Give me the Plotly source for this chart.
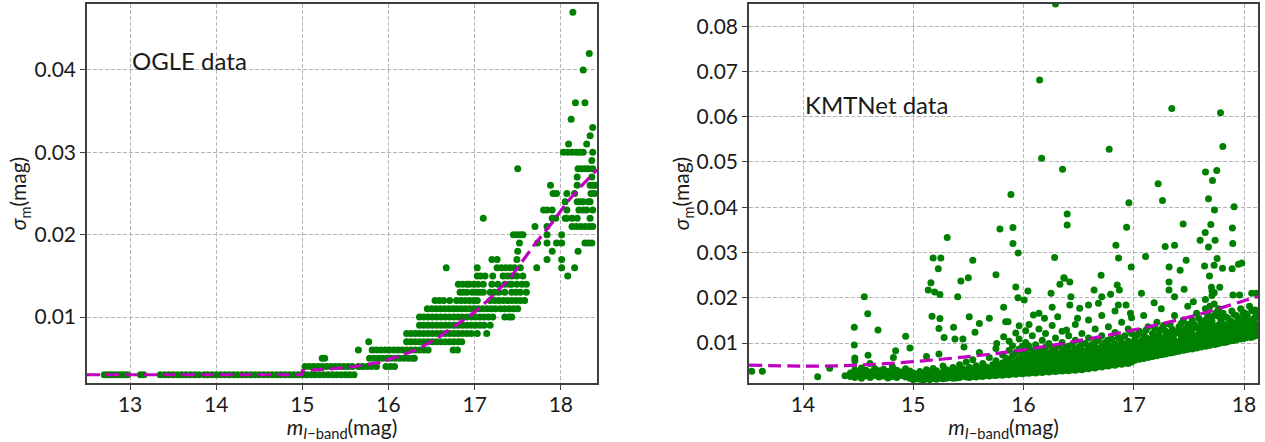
import plotly.graph_objects as go

# ---------------- OGLE data (left panel) ----------------
# quantised sigma levels and the I-band magnitudes read at each level
ogle_levels = [0.003, 0.004, 0.005, 0.006, 0.007, 0.008, 0.009, 0.010, 0.011, 0.012,
               0.013, 0.014, 0.015, 0.016, 0.017, 0.018, 0.019, 0.020, 0.021, 0.022,
               0.023, 0.024, 0.025, 0.026, 0.027, 0.028, 0.029, 0.030, 0.031, 0.032,
               0.033, 0.034, 0.036, 0.040, 0.042, 0.047]
ogle_rows = [
    [12.70, 12.74, 12.78, 12.82, 12.86, 12.90, 12.93, 12.97, 13.12, 13.16, 13.35, 13.40,
     13.45, 13.50, 13.55, 13.60, 13.65, 13.70, 13.75, 13.80, 13.86, 13.90, 13.95, 14.00,
     14.05, 14.10, 14.15, 14.20, 14.25, 14.30, 14.35, 14.40, 14.45, 14.50, 14.55, 14.60,
     14.65, 14.70, 14.75, 14.80, 14.85, 14.90, 14.95, 15.00, 15.05, 15.10, 15.15, 15.20,
     15.25, 15.30, 15.35, 15.40, 15.45, 15.50, 15.55, 15.60],
    [15.03, 15.08, 15.13, 15.18, 15.23, 15.28, 15.33, 15.38, 15.43, 15.48, 15.53, 15.58,
     15.65, 15.70, 15.75, 15.80, 15.86, 15.97, 16.02, 16.07],
    [15.23, 15.26, 15.78, 15.83, 15.88, 15.93, 15.98, 16.03, 16.08, 16.13, 16.18, 16.23,
     16.28, 16.30],
    [15.65, 15.81, 15.86, 15.91, 15.96, 16.01, 16.06, 16.11, 16.16, 16.21, 16.26, 16.31,
     16.36, 16.41, 16.46, 16.75, 16.80],
    [15.77, 16.21, 16.26, 16.31, 16.36, 16.41, 16.46, 16.51, 16.56, 16.61, 16.66, 16.71,
     16.76, 16.81, 16.85],
    [16.21, 16.26, 16.31, 16.36, 16.41, 16.46, 16.51, 16.56, 16.61, 16.66, 16.71, 16.76,
     16.81, 16.86, 16.91, 16.96, 17.03, 17.14],
    [16.36, 16.41, 16.46, 16.51, 16.56, 16.61, 16.66, 16.71, 16.76, 16.81, 16.86, 16.91,
     16.96, 17.01, 17.06, 17.11, 17.18],
    [16.36, 16.41, 16.46, 16.51, 16.56, 16.61, 16.66, 16.71, 16.76, 16.81, 16.86, 16.91,
     16.96, 17.01, 17.06, 17.11, 17.16, 17.21, 17.35, 17.40, 17.43],
    [16.45, 16.50, 16.55, 16.60, 16.65, 16.70, 16.75, 16.79, 16.84, 16.89, 16.94, 16.99,
     17.04, 17.09, 17.14, 17.19, 17.24, 17.30, 17.35, 17.40, 17.45, 17.50],
    [16.54, 16.59, 16.64, 16.71, 16.79, 16.84, 16.89, 16.94, 16.99, 17.03, 17.18, 17.23,
     17.28, 17.33, 17.38, 17.43, 17.48, 17.53, 17.58],
    [16.83, 16.87, 16.91, 16.97, 17.02, 17.06, 17.10, 17.18, 17.23, 17.28, 17.35, 17.43,
     17.48, 17.53, 17.60],
    [16.81, 16.86, 16.91, 16.94, 16.99, 17.04, 17.10, 17.20, 17.27, 17.35, 17.40, 17.43,
     17.49, 17.55, 17.60],
    [17.03, 17.07, 17.12, 17.21, 17.33, 17.38, 17.43, 17.49, 17.56, 18.08],
    [16.67, 17.03, 17.26, 17.31, 17.36, 17.41, 17.46, 17.53, 17.72, 18.01, 18.16],
    [17.20, 17.26, 17.49, 17.84, 18.01],
    [17.50, 17.90, 18.20],
    [17.52, 17.73, 17.84, 17.95, 18.01, 18.28, 18.32, 18.36],
    [17.45, 17.49, 17.53, 17.56, 17.84, 18.01],
    [17.70, 17.84, 18.13, 18.18, 18.23, 18.28, 18.33, 18.37],
    [17.10, 17.90, 17.94, 18.05, 18.07, 18.13, 18.19, 18.34],
    [17.80, 17.84, 17.90, 18.07, 18.21, 18.26, 18.30, 18.37],
    [18.05, 18.19, 18.23, 18.26, 18.32, 18.34],
    [17.91, 17.95, 18.07, 18.16, 18.35, 18.39],
    [17.88, 18.19, 18.34, 18.37, 18.40],
    [18.19, 18.36],
    [17.50, 18.20, 18.24, 18.28, 18.32, 18.37],
    [18.36],
    [18.03, 18.08, 18.13, 18.18, 18.22, 18.26, 18.37],
    [18.09, 18.30],
    [18.34],
    [18.37],
    [18.12],
    [18.17, 18.28],
    [18.26],
    [18.33],
    [18.14],
]
ogle_fit_x = [12.50, 13.50, 14.50, 15.00, 15.00, 15.32, 15.61, 15.90, 16.13, 16.36, 16.60,
              16.83, 17.00, 17.18, 17.41, 17.68, 17.91, 18.07, 18.22, 18.42]
ogle_fit_y = [0.0030, 0.0030, 0.0030, 0.0030, 0.0035, 0.0037, 0.0040, 0.0045, 0.0053,
              0.0062, 0.0077, 0.0094, 0.0106, 0.0123, 0.0147, 0.0186, 0.0216, 0.0239,
              0.0257, 0.0279]

# ---------------- KMTNet data (right panel) ----------------
# scattered points read individually
kmt_sparse_x = [13.535, 13.631, 14.133, 14.242, 14.381, 14.465, 14.556, 14.587, 14.465, 14.47,
                14.47, 14.68, 14.931, 14.97, 14.84, 14.82, 14.607, 14.59, 15.12, 15.308,
                15.18, 15.25, 15.227, 15.16, 15.136, 15.194, 15.242, 15.17, 15.242, 15.233,
                15.28, 15.233, 15.366, 15.378, 15.45, 15.46, 15.403, 15.432, 15.499, 15.54,
                15.75, 15.786, 15.508, 15.56, 15.60, 15.69, 15.82, 15.838, 15.82, 15.757,
                15.886, 15.904, 15.904, 15.952, 15.93, 15.95, 16.04, 16.006, 15.86,
                16.29, 16.146, 17.345, 17.787, 16.777, 17.808, 16.164, 16.354, 17.651, 17.753,
                17.714, 17.221, 17.261, 17.678, 16.956, 17.91, 17.732, 16.396, 16.396, 16.935,
                17.448, 17.699, 17.895, 17.648, 17.602, 17.738, 17.898, 16.838, 17.285, 17.37,
                17.678, 16.282, 16.862, 17.107, 17.756, 17.475, 17.321, 17.642, 17.729, 16.977,
                17.421, 17.805, 17.892, 17.95, 17.98, 16.704, 16.366, 17.687,
                16.09, 16.14, 16.19, 16.25, 16.26, 16.33, 16.37, 16.42, 16.43, 16.42,
                16.31, 16.39, 16.49, 16.51, 16.59, 16.64, 16.71, 16.68, 16.79, 16.85,
                16.87, 16.86, 16.93, 16.97, 17.07, 17.185, 17.32, 17.32, 17.37, 17.457,
                17.54, 17.705, 17.71, 17.71, 17.78, 17.96, 17.90, 18.07, 18.11, 18.10, 18.00]
kmt_sparse_y = [0.00375, 0.00375, 0.00256, 0.00441, 0.00278, 0.01347, 0.0202, 0.01647, 0.00956, 0.0067,
                0.0061, 0.01287, 0.01148, 0.0089, 0.0083, 0.0068, 0.0055, 0.0073, 0.0070, 0.0333,
                0.0288, 0.0288, 0.0264, 0.0233, 0.0217, 0.0213, 0.0207, 0.0159, 0.0154, 0.0132,
                0.0112, 0.0076, 0.0135, 0.0109, 0.0109, 0.0091, 0.0202, 0.0237, 0.0244, 0.0283,
                0.0251, 0.0352, 0.0158, 0.0124, 0.0143, 0.0155, 0.0179, 0.0147, 0.0114, 0.0099,
                0.0428, 0.0355, 0.0320, 0.0299, 0.0224, 0.0200, 0.0215, 0.0195, 0.0147,
                0.0849, 0.0681, 0.0618, 0.0609, 0.0528, 0.0534, 0.0508, 0.0484, 0.0478, 0.0481,
                0.0459, 0.0452, 0.0415, 0.0419, 0.0410, 0.0401, 0.0394, 0.0385, 0.0361, 0.0356,
                0.0363, 0.0362, 0.0354, 0.0344, 0.0327, 0.0327, 0.0320, 0.0316, 0.0313, 0.0316,
                0.0312, 0.0289, 0.0288, 0.0291, 0.0287, 0.0283, 0.0268, 0.0270, 0.0272, 0.0268,
                0.0261, 0.0265, 0.0264, 0.0274, 0.0277, 0.0250, 0.0244, 0.0248,
                0.0162, 0.0166, 0.0155, 0.0210, 0.0179, 0.0230, 0.0243, 0.0235, 0.0202, 0.0184,
                0.0158, 0.0129, 0.0155, 0.0177, 0.0184, 0.0217, 0.0202, 0.0188, 0.0208, 0.0228,
                0.0217, 0.0184, 0.0184, 0.0166, 0.0210, 0.0189, 0.0235, 0.0217, 0.0202, 0.0219,
                0.0191, 0.0223, 0.0215, 0.0205, 0.0223, 0.0206, 0.0206, 0.0210, 0.0210, 0.0173, 0.0162]

# dense band: magnitude columns and the sigma values read in each column
kmt_band_x = [14.43, 14.47, 14.50, 14.53, 14.57, 14.61, 14.65, 14.69, 14.73, 14.77, 14.81,
              14.85, 14.89, 14.93, 14.97,
              15.00, 15.03, 15.06, 15.09, 15.12, 15.15, 15.18, 15.21, 15.24, 15.27, 15.30,
              15.33, 15.36, 15.39, 15.42, 15.45, 15.48, 15.51, 15.54, 15.57, 15.60, 15.63,
              15.66, 15.69, 15.72, 15.75, 15.78, 15.81, 15.84, 15.87, 15.90, 15.93, 15.96,
              15.99, 16.02, 16.05, 16.08, 16.11, 16.14, 16.17, 16.20, 16.23, 16.26, 16.29,
              16.32, 16.35, 16.38, 16.41, 16.44, 16.47, 16.50, 16.53, 16.56, 16.59, 16.62,
              16.65, 16.68, 16.71, 16.74, 16.77, 16.80, 16.83, 16.86, 16.89, 16.92, 16.95,
              16.98, 17.01, 17.05, 17.09, 17.13, 17.17, 17.21, 17.25, 17.29, 17.33, 17.37,
              17.41, 17.45, 17.49, 17.53, 17.57, 17.61, 17.65, 17.69, 17.73, 17.77, 17.81,
              17.85, 17.89, 17.93, 17.97, 18.01, 18.05, 18.09, 18.12]
kmt_band_y = [
    [0.0026, 0.0034], [0.0024, 0.0041, 0.0031], [0.0029, 0.0037], [0.0022, 0.0033, 0.0045],
    [0.0027, 0.0040], [0.0031, 0.0024, 0.0036], [0.0028, 0.0044], [0.0034, 0.0025, 0.0039],
    [0.0027, 0.0042, 0.0032], [0.0030, 0.0023, 0.0037], [0.0026, 0.0035, 0.0048],
    [0.0031, 0.0040, 0.0024], [0.0028, 0.0036], [0.0025, 0.0033, 0.0043],
    [0.0029, 0.0038, 0.0022],
    [0.0019, 0.0027, 0.0034], [0.0023, 0.0031, 0.0021], [0.0020, 0.0029, 0.0037, 0.0026],
    [0.0024, 0.0018, 0.0033], [0.0021, 0.0028, 0.0041, 0.0035], [0.0025, 0.0019, 0.0032],
    [0.0022, 0.0030, 0.0044, 0.0027], [0.0026, 0.0020, 0.0035, 0.0039], [0.0023, 0.0031, 0.0028],
    [0.0021, 0.0027, 0.0036, 0.0049], [0.0025, 0.0033, 0.0022, 0.0041], [0.0028, 0.0024, 0.0038],
    [0.0022, 0.0030, 0.0035, 0.0046], [0.0026, 0.0033, 0.0040, 0.0023],
    [0.0029, 0.0024, 0.0037, 0.0052], [0.0027, 0.0034, 0.0043], [0.0025, 0.0031, 0.0039, 0.0058],
    [0.0028, 0.0036, 0.0046, 0.0024], [0.0026, 0.0033, 0.0041, 0.0063],
    [0.0029, 0.0038, 0.0025, 0.0050], [0.0027, 0.0035, 0.0044, 0.0079],
    [0.0030, 0.0026, 0.0040, 0.0055], [0.0028, 0.0037, 0.0047, 0.0033],
    [0.0031, 0.0027, 0.0043, 0.0068], [0.0029, 0.0036, 0.0052, 0.0040],
    [0.0032, 0.0028, 0.0045, 0.0061, 0.0088], [0.0030, 0.0038, 0.0049, 0.0035],
    [0.0033, 0.0029, 0.0042, 0.0056, 0.0074], [0.0031, 0.0039, 0.0051, 0.0067, 0.0036],
    [0.0034, 0.0030, 0.0046, 0.0059, 0.0084, 0.0104], [0.0032, 0.0040, 0.0053, 0.0071, 0.0094, 0.0037],
    [0.0035, 0.0031, 0.0047, 0.0058, 0.0079, 0.0122],
    [0.0033, 0.0041, 0.0055, 0.0066, 0.0109, 0.0138, 0.0087],
    [0.0036, 0.0032, 0.0049, 0.0061, 0.0076, 0.0093],
    [0.0034, 0.0042, 0.0052, 0.0063, 0.0080, 0.0101, 0.0127],
    [0.0037, 0.0033, 0.0046, 0.0057, 0.0069, 0.0089, 0.0141],
    [0.0035, 0.0043, 0.0054, 0.0065, 0.0083, 0.0116, 0.0039],
    [0.0038, 0.0034, 0.0048, 0.0059, 0.0072, 0.0096],
    [0.0036, 0.0044, 0.0056, 0.0067, 0.0086, 0.0131, 0.0050],
    [0.0039, 0.0035, 0.0050, 0.0061, 0.0074, 0.0106],
    [0.0037, 0.0045, 0.0058, 0.0069, 0.0091, 0.0121, 0.0042],
    [0.0040, 0.0036, 0.0052, 0.0063, 0.0077, 0.0099],
    [0.0038, 0.0047, 0.0060, 0.0071, 0.0086, 0.0139, 0.0054],
    [0.0041, 0.0037, 0.0055, 0.0066, 0.0079, 0.0111],
    [0.0039, 0.0048, 0.0062, 0.0074, 0.0093, 0.0044],
    [0.0042, 0.0038, 0.0057, 0.0068, 0.0081, 0.0101, 0.0126],
    [0.0040, 0.0050, 0.0063, 0.0076, 0.0089, 0.0045],
    [0.0043, 0.0039, 0.0058, 0.0070, 0.0083, 0.0116],
    [0.0041, 0.0052, 0.0065, 0.0078, 0.0096, 0.0047],
    [0.0044, 0.0040, 0.0060, 0.0072, 0.0086, 0.0106, 0.0141],
    [0.0042, 0.0054, 0.0067, 0.0080, 0.0091, 0.0049],
    [0.0046, 0.0041, 0.0061, 0.0073, 0.0084, 0.0121],
    [0.0044, 0.0056, 0.0069, 0.0081, 0.0099, 0.0051],
    [0.0048, 0.0043, 0.0063, 0.0075, 0.0089, 0.0111, 0.0151],
    [0.0046, 0.0058, 0.0071, 0.0083, 0.0096, 0.0053],
    [0.0050, 0.0045, 0.0065, 0.0077, 0.0091, 0.0131],
    [0.0048, 0.0060, 0.0073, 0.0086, 0.0106, 0.0055],
    [0.0052, 0.0047, 0.0067, 0.0079, 0.0093, 0.0116, 0.0161],
    [0.0050, 0.0062, 0.0075, 0.0088, 0.0101, 0.0057],
    [0.0054, 0.0049, 0.0069, 0.0081, 0.0096, 0.0136],
    [0.0052, 0.0064, 0.0077, 0.0091, 0.0109, 0.0059],
    [0.0056, 0.0051, 0.0071, 0.0083, 0.0098, 0.0123, 0.0171],
    [0.0054, 0.0066, 0.0079, 0.0093, 0.0111, 0.0061],
    [0.0058, 0.0053, 0.0073, 0.0085, 0.0101, 0.0146],
    [0.0056, 0.0068, 0.0081, 0.0096, 0.0116, 0.0063],
    [0.0060, 0.0055, 0.0075, 0.0087, 0.0104, 0.0131],
    [0.0058, 0.0070, 0.0083, 0.0099, 0.0121, 0.0156, 0.0065],
    [0.0062, 0.0072, 0.0086, 0.0109, 0.0067], [0.0064, 0.0076, 0.0091, 0.0126, 0.0082],
    [0.0066, 0.0079, 0.0097, 0.0116, 0.0161, 0.0071], [0.0068, 0.0082, 0.0101, 0.0136, 0.0088],
    [0.0070, 0.0085, 0.0104, 0.0121, 0.0077], [0.0072, 0.0087, 0.0108, 0.0146, 0.0094],
    [0.0074, 0.0090, 0.0111, 0.0131, 0.0176, 0.0081], [0.0076, 0.0093, 0.0114, 0.0126, 0.0100],
    [0.0078, 0.0096, 0.0117, 0.0141, 0.0086], [0.0080, 0.0098, 0.0120, 0.0161, 0.0106],
    [0.0082, 0.0101, 0.0123, 0.0136, 0.0091], [0.0084, 0.0103, 0.0126, 0.0151, 0.0113],
    [0.0086, 0.0106, 0.0129, 0.0141, 0.0181, 0.0096], [0.0087, 0.0108, 0.0131, 0.0151, 0.0118],
    [0.0089, 0.0110, 0.0134, 0.0166, 0.0100], [0.0091, 0.0112, 0.0127, 0.0146, 0.0122],
    [0.0093, 0.0114, 0.0130, 0.0151, 0.0176, 0.0196, 0.0104],
    [0.0095, 0.0116, 0.0134, 0.0156, 0.0181, 0.0125],
    [0.0097, 0.0118, 0.0137, 0.0161, 0.0186, 0.0211, 0.0108],
    [0.0099, 0.0120, 0.0140, 0.0159, 0.0176, 0.0130],
    [0.0101, 0.0122, 0.0142, 0.0166, 0.0112], [0.0103, 0.0124, 0.0139, 0.0156, 0.0133],
    [0.0105, 0.0126, 0.0147, 0.0171, 0.0116], [0.0107, 0.0128, 0.0144, 0.0161, 0.0137],
    [0.0109, 0.0130, 0.0150, 0.0176, 0.0120], [0.0111, 0.0132, 0.0152, 0.0166, 0.0141],
    [0.0113, 0.0134, 0.0148, 0.0181, 0.0124], [0.0115, 0.0136, 0.0154, 0.0171, 0.0145],
    [0.0117, 0.0138, 0.0157, 0.0128],
]
# further columns of the dense band lying between the ones above
kmt_band2_x = [16.015, 16.045, 16.075, 16.105, 16.135, 16.165, 16.195, 16.225, 16.255, 16.285,
               16.315, 16.345, 16.375, 16.405, 16.435, 16.465, 16.495, 16.525, 16.555, 16.585,
               16.615, 16.645, 16.675, 16.705, 16.735, 16.765, 16.795, 16.825, 16.855, 16.885,
               16.915, 16.945, 16.975,
               17.03, 17.07, 17.11, 17.15, 17.19, 17.23, 17.27, 17.31, 17.35, 17.39, 17.43,
               17.47, 17.51, 17.55, 17.59, 17.63, 17.67, 17.71, 17.75, 17.79, 17.83, 17.87,
               17.91, 17.95, 17.99, 18.03, 18.07, 18.11]
kmt_band2_y = [
    [0.0039, 0.0058, 0.0045, 0.0071], [0.0035, 0.0062, 0.0050, 0.0094],
    [0.0041, 0.0048, 0.0076, 0.0060], [0.0037, 0.0053, 0.0066, 0.0044],
    [0.0043, 0.0061, 0.0038, 0.0079], [0.0045, 0.0056, 0.0069, 0.0040],
    [0.0039, 0.0064, 0.0048, 0.0083], [0.0046, 0.0055, 0.0072, 0.0041],
    [0.0042, 0.0067, 0.0050, 0.0058], [0.0048, 0.0059, 0.0044, 0.0088],
    [0.0043, 0.0070, 0.0053, 0.0061], [0.0050, 0.0047, 0.0064, 0.0078],
    [0.0044, 0.0059, 0.0073, 0.0052], [0.0051, 0.0062, 0.0046, 0.0093],
    [0.0046, 0.0071, 0.0055, 0.0064], [0.0053, 0.0048, 0.0066, 0.0082],
    [0.0047, 0.0063, 0.0075, 0.0056], [0.0055, 0.0050, 0.0068, 0.0097],
    [0.0049, 0.0074, 0.0058, 0.0066], [0.0057, 0.0052, 0.0070, 0.0086],
    [0.0051, 0.0066, 0.0079, 0.0060], [0.0059, 0.0054, 0.0073, 0.0102],
    [0.0053, 0.0078, 0.0062, 0.0070], [0.0061, 0.0056, 0.0075, 0.0090],
    [0.0055, 0.0070, 0.0083, 0.0064], [0.0063, 0.0058, 0.0077, 0.0106],
    [0.0057, 0.0082, 0.0066, 0.0074], [0.0065, 0.0060, 0.0079, 0.0094],
    [0.0059, 0.0074, 0.0088, 0.0068], [0.0067, 0.0062, 0.0081, 0.0111],
    [0.0061, 0.0086, 0.0070, 0.0078], [0.0069, 0.0064, 0.0084, 0.0099],
    [0.0063, 0.0077, 0.0092, 0.0072],
    [0.0069, 0.0083, 0.0074, 0.0098, 0.0118], [0.0072, 0.0088, 0.0078, 0.0105],
    [0.0070, 0.0081, 0.0093, 0.0112, 0.0128], [0.0075, 0.0090, 0.0084, 0.0108],
    [0.0073, 0.0095, 0.0080, 0.0116, 0.0133], [0.0078, 0.0086, 0.0100, 0.0122],
    [0.0081, 0.0076, 0.0097, 0.0108, 0.0139], [0.0079, 0.0089, 0.0104, 0.0120],
    [0.0084, 0.0093, 0.0079, 0.0110, 0.0130], [0.0082, 0.0100, 0.0091, 0.0125],
    [0.0087, 0.0095, 0.0108, 0.0118, 0.0143], [0.0085, 0.0099, 0.0114, 0.0131],
    [0.0090, 0.0098, 0.0120, 0.0110, 0.0137], [0.0093, 0.0104, 0.0116, 0.0141],
    [0.0092, 0.0100, 0.0121, 0.0132, 0.0155], [0.0096, 0.0107, 0.0118, 0.0139],
    [0.0095, 0.0105, 0.0123, 0.0142, 0.0163], [0.0100, 0.0110, 0.0127, 0.0148],
    [0.0098, 0.0109, 0.0133, 0.0121, 0.0168], [0.0103, 0.0114, 0.0129, 0.0151],
    [0.0102, 0.0113, 0.0135, 0.0125, 0.0158], [0.0107, 0.0118, 0.0130, 0.0149],
    [0.0106, 0.0117, 0.0139, 0.0128, 0.0163], [0.0111, 0.0122, 0.0134, 0.0155],
    [0.0110, 0.0120, 0.0143, 0.0131, 0.0168], [0.0114, 0.0126, 0.0138, 0.0160],
    [0.0113, 0.0124, 0.0146, 0.0135, 0.0172], [0.0118, 0.0129, 0.0141, 0.0162],
]
kmt_fit_x = [13.51, 14.00, 14.49, 15.00, 15.54, 16.00, 16.45, 17.00, 17.51, 18.13]
kmt_fit_y = [0.00514, 0.0049, 0.0051, 0.0059, 0.0071, 0.0085, 0.0103, 0.0129, 0.0158, 0.0203]

# ---------------- build traces ----------------
ogle_x, ogle_y = [], []
for lev, row in zip(ogle_levels, ogle_rows):
    ogle_x += row
    ogle_y += [lev] * len(row)

kmt_x, kmt_y = list(kmt_sparse_x), list(kmt_sparse_y)
for cols_x, cols_y in ((kmt_band_x, kmt_band_y), (kmt_band2_x, kmt_band2_y)):
    for cx, col in zip(cols_x, cols_y):
        kmt_x += [cx] * len(col)
        kmt_y += col

GREEN = "#008000"
MAGENTA = "#BF00BF"
FONT = "Lato, 'DejaVu Sans', sans-serif"
TXT = "#1a1a1a"

fig = go.Figure()
fig.add_trace(go.Scatter(x=ogle_x, y=ogle_y, mode="markers",
                         marker=dict(color=GREEN, size=7, line=dict(width=0)),
                         xaxis="x", yaxis="y", showlegend=False))
fig.add_trace(go.Scatter(x=ogle_fit_x, y=ogle_fit_y, mode="lines",
                         line=dict(color=MAGENTA, width=3.2, dash="13px,6px"),
                         xaxis="x", yaxis="y", showlegend=False))
fig.add_trace(go.Scatter(x=kmt_x, y=kmt_y, mode="markers",
                         marker=dict(color=GREEN, size=7, line=dict(width=0)),
                         xaxis="x2", yaxis="y2", showlegend=False))
fig.add_trace(go.Scatter(x=kmt_fit_x, y=kmt_fit_y, mode="lines", line_shape="spline",
                         line=dict(color=MAGENTA, width=3.2, dash="13px,6px"),
                         xaxis="x2", yaxis="y2", showlegend=False))

W, H = 1265, 442
ydom = [(H - 383) / H, (H - 4) / H]

axis_common = dict(showline=True, mirror=True, linecolor="#404040", linewidth=1.5,
                   ticks="outside", ticklen=5, tickwidth=1.2, tickcolor="#404040",
                   showgrid=True, gridcolor="#b5b5b5", gridwidth=1, griddash="4px,2px",
                   zeroline=False, tickfont=dict(family=FONT, size=21, color=TXT),
                   automargin=False)

xtitle = "<i>m</i><sub><i>I</i>\u2212band</sub>(mag)"
ytitle = "<i>\u03c3</i><sub>m</sub>(mag)"

fig.update_layout(
    width=W, height=H, margin=dict(l=0, r=0, t=0, b=0),
    plot_bgcolor="white", paper_bgcolor="white",
    font=dict(family=FONT, color=TXT),
    xaxis=dict(domain=[87 / W, 597 / W], range=[12.5, 18.42], anchor="y",
               tickvals=[13, 14, 15, 16, 17, 18], ticklabelstandoff=-3,
               title=dict(text=xtitle, font=dict(size=21), standoff=2), **axis_common),
    yaxis=dict(domain=ydom, range=[0.0020, 0.0480], anchor="x",
               tickvals=[0.01, 0.02, 0.03, 0.04], tickformat=".2f",
               title=dict(text=ytitle, font=dict(size=21), standoff=2), **axis_common),
    xaxis2=dict(domain=[749 / W, 1258 / W], range=[13.51, 18.127], anchor="y2",
                tickvals=[14, 15, 16, 17, 18], ticklabelstandoff=-3,
                title=dict(text=xtitle, font=dict(size=21), standoff=2), **axis_common),
    yaxis2=dict(domain=ydom, range=[0.00117, 0.0849], anchor="x2",
                tickvals=[0.01, 0.02, 0.03, 0.04, 0.05, 0.06, 0.07, 0.08], tickformat=".2f",
                title=dict(text=ytitle, font=dict(size=21), standoff=0), **axis_common),
    annotations=[
        dict(text="OGLE data", x=13.0, y=0.0412, xref="x", yref="y", xanchor="left",
             yanchor="middle", showarrow=False, font=dict(family=FONT, size=24, color=TXT)),
        dict(text="KMTNet data", x=14.0, y=0.0626, xref="x2", yref="y2", xanchor="left",
             yanchor="middle", showarrow=False, font=dict(family=FONT, size=24, color=TXT)),
    ],
)

fig.write_html("out.html", config={"displayModeBar": False},
               post_script="document.body.style.margin='0';")
